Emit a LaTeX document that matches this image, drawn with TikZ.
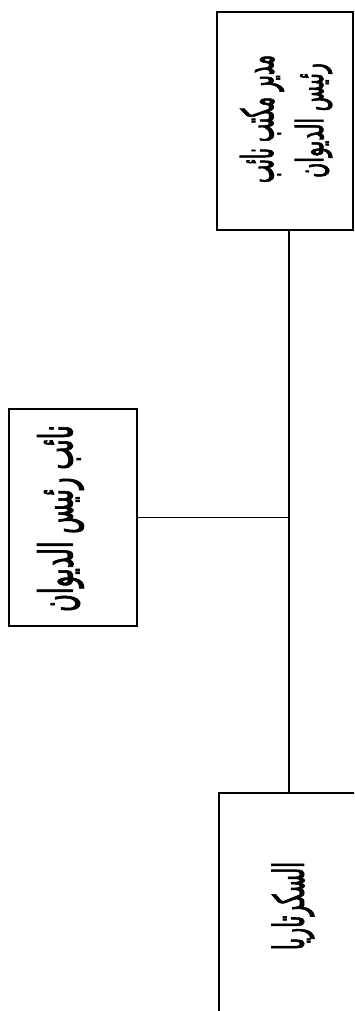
\documentclass[tikz,border=0pt]{standalone}
\usepackage{fontspec}
\newfontfamily\arabicfont[Script=Arabic,FakeBold=2.5]{DejaVu Sans}
\TeXXeTstate=1
\usetikzlibrary{positioning}
\tikzset{
  unitbox/.style={draw, line width=1pt, inner sep=0pt, fill=white},
  unittext/.style={inner sep=0pt},
  bus/.style={line width=1pt}
}
% #1 = length along the line, #2 = thickness, #3 = text
\newcommand{\artext}[3]{\rotatebox{90}{\resizebox*{#1}{#2}{\arabicfont\fontsize{20}{26}\selectfont #3}}}
\begin{document}
\begin{tikzpicture}[x=0.75pt,y=0.75pt,yscale=-1,xscale=1]
  \clip (0,0) rectangle (354,1011);
  \fill[white] (0,0) rectangle (354,1011);
  % Boxes
  \node[unitbox, minimum width=102pt, minimum height=163.5pt] (office) at (285,121) {};
  \node[unitbox, minimum width=96pt, minimum height=162.75pt] (deputy) at (73,517.5) {};
  \node[unitbox, minimum width=111pt, minimum height=168pt] (secretariat) at (293,905) {};
  % Texts
  \node[unittext] (officetxt) at (262,119) {\artext{96pt}{33pt}{\beginR مدير مكتب نائب\endR}};
  \node[unittext] (officetxtb) at (313.5,120.5) {\artext{86pt}{28pt}{\beginR رئيس الديوان\endR}};
  \node[unittext] (deputytxt) at (60.5,518.5) {\artext{140pt}{35pt}{\beginR نائب رئيس الديوان\endR}};
  \node[unittext] (secretariattxt) at (293,906) {\artext{66pt}{32pt}{\beginR السكرتاريا\endR}};
  % Connectors
  \coordinate (hub) at (289,517.5);
  \draw[bus] (office.south -| hub) -- (secretariat.north -| hub);
  \draw[bus] (deputy.east) -- (hub);
\end{tikzpicture}
\end{document}
